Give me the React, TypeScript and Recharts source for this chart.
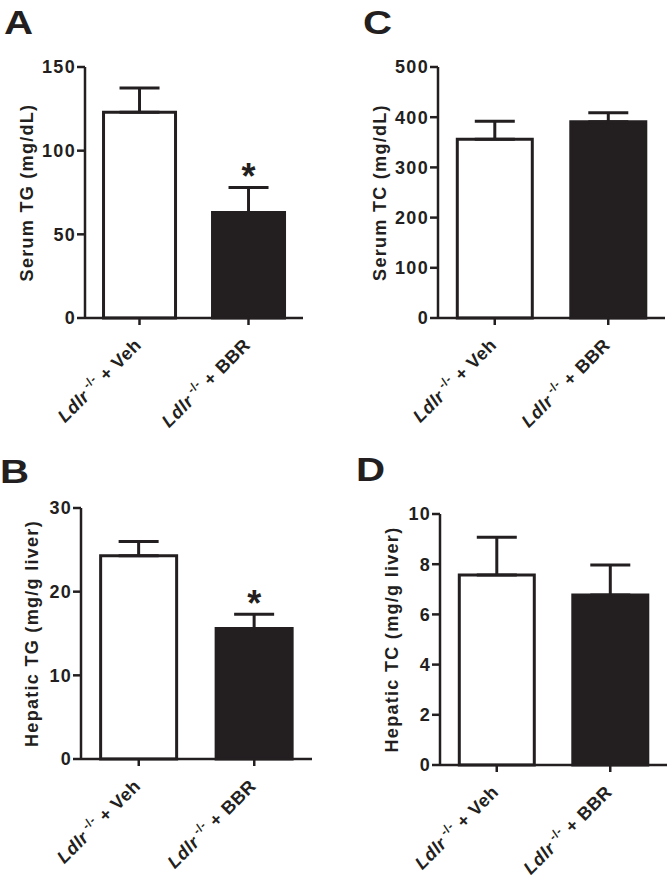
import React from "react";
import { BarChart, Bar, XAxis, YAxis, Cell, ErrorBar, ReferenceDot, Label } from "recharts";

const groups = ["Veh", "BBR"];
const geneName = "Ldlr";
const genotype = "-/-";

const serumTG = [123, 63];
const serumTGErr = [14.5, 15];
const serumTGSig = ["", "*"];
const serumTGTicks = [0, 50, 100, 150];

const hepaticTG = [24.3, 15.6];
const hepaticTGErr = [1.7, 1.7];
const hepaticTGSig = ["", "*"];
const hepaticTGTicks = [0, 10, 20, 30];

const serumTC = [356, 391];
const serumTCErr = [36, 18];
const serumTCSig = ["", ""];
const serumTCTicks = [0, 100, 200, 300, 400, 500];

const hepaticTC = [7.57, 6.77];
const hepaticTCErr = [1.5, 1.2];
const hepaticTCSig = ["", ""];
const hepaticTCTicks = [0, 2, 4, 6, 8, 10];

const INK = "#231f20";
const FONT = "'Liberation Sans', Arial, sans-serif";
const fills = ["#ffffff", INK];

function buildData(values: number[], errs: number[], sig: string[]) {
  return groups.map((g, i) => ({
    name: g,
    value: values[i],
    err: [0, errs[i]],
    top: values[i] + errs[i],
    sig: sig[i],
  }));
}

const CatTick = (props: any) => {
  const { x, y, payload } = props;
  return (
    <g transform={`translate(${x + 3},${y + 19})`}>
      <text
        x={0}
        y={0}
        transform="rotate(-45)"
        textAnchor="end"
        fontFamily={FONT}
        fontWeight="bold"
        fontSize={18}
        letterSpacing={0.6}
        fill={INK}
      >
        <tspan fontStyle="italic">{geneName}</tspan>
        <tspan fontSize={12} dy={-8}>{" " + genotype}</tspan>
        <tspan dy={8}>{" + " + payload.value}</tspan>
      </text>
    </g>
  );
};

type PanelProps = {
  left: number;
  top: number;
  width: number;
  height: number;
  margin: { top: number; right: number; left: number; bottom: number };
  yWidth: number;
  xHeight: number;
  values: number[];
  errs: number[];
  sig: string[];
  ticks: number[];
  yLabel: string;
  labelX: number;
  letter: string;
  letterLeft: number;
  letterTop: number;
};

const Panel = (p: PanelProps) => {
  const data = buildData(p.values, p.errs, p.sig);
  const max = p.ticks[p.ticks.length - 1];
  return (
    <>
      <div
        style={{
          position: "absolute",
          left: p.letterLeft,
          top: p.letterTop,
          fontFamily: FONT,
          fontWeight: "bold",
          fontSize: 33,
          lineHeight: 1,
          color: INK,
          transform: "scaleX(1.22)",
          transformOrigin: "left top",
        }}
      >
        {p.letter}
      </div>
      <div style={{ position: "absolute", left: p.left, top: p.top }}>
        <BarChart width={p.width} height={p.height} data={data} margin={p.margin} barCategoryGap="17%">
          <XAxis
            dataKey="name"
            height={p.xHeight}
            tick={<CatTick />}
            tickLine={{ stroke: INK, strokeWidth: 2.5 }}
            axisLine={{ stroke: INK, strokeWidth: 2.5 }}
            tickSize={7}
            interval={0}
          />
          <YAxis
            width={p.yWidth}
            domain={[0, max]}
            ticks={p.ticks}
            interval={0}
            tickSize={8}
            tickMargin={1}
            tickLine={{ stroke: INK, strokeWidth: 2.5 }}
            axisLine={{ stroke: INK, strokeWidth: 2.5 }}
            tick={{ fill: INK, fontFamily: FONT, fontWeight: "bold", fontSize: 18, letterSpacing: 1.3 }}
          >
            <Label
              content={(lp: any) => {
                const vb = lp.viewBox || {};
                const cy = vb.y + vb.height / 2;
                return (
                  <text
                    transform={`translate(${p.labelX},${cy}) rotate(-90)`}
                    textAnchor="middle"
                    fontFamily={FONT}
                    fontWeight="bold"
                    fontSize={18}
                    letterSpacing={1.3}
                    fill={INK}
                  >
                    {p.yLabel}
                  </text>
                );
              }}
            />
          </YAxis>
          <Bar dataKey="value" isAnimationActive={false} stroke={INK} strokeWidth={3}>
            {data.map((d, i) => (
              <Cell key={d.name} fill={fills[i]} />
            ))}
            <ErrorBar dataKey="err" width={20} stroke={INK} strokeWidth={3} direction="y" />
          </Bar>
          {data
            .filter((d) => d.sig)
            .map((d) => (
              <ReferenceDot
                key={"sig" + d.name}
                x={d.name}
                y={d.top}
                r={0}
                ifOverflow="visible"
                shape={(sp: any) => (
                  <text
                    x={sp.cx}
                    y={sp.cy + 2}
                    textAnchor="middle"
                    fontFamily={FONT}
                    fontWeight="bold"
                    fontSize={36}
                    fill={INK}
                  >
                    {d.sig}
                  </text>
                )}
              />
            ))}
        </BarChart>
      </div>
    </>
  );
};

export default function App() {
  return (
    <div style={{ position: "absolute", left: 0, top: 0, width: 669, height: 883, background: "#fff" }}>
      <Panel
        left={0}
        top={40}
        width={320}
        height={400}
        margin={{ top: 27, right: 17, left: 0, bottom: 0 }}
        yWidth={85}
        xHeight={122}
        values={serumTG}
        errs={serumTGErr}
        sig={serumTGSig}
        ticks={serumTGTicks}
        yLabel="Serum TG (mg/dL)"
        labelX={33}
        letter="A"
        letterLeft={4}
        letterTop={6}
      />
      <Panel
        left={0}
        top={480}
        width={330}
        height={403}
        margin={{ top: 28, right: 18, left: 0, bottom: 0 }}
        yWidth={81}
        xHeight={124}
        values={hepaticTG}
        errs={hepaticTGErr}
        sig={hepaticTGSig}
        ticks={hepaticTGTicks}
        yLabel="Hepatic TG (mg/g liver)"
        labelX={38}
        letter="B"
        letterLeft={0}
        letterTop={455}
      />
      <Panel
        left={340}
        top={40}
        width={329}
        height={400}
        margin={{ top: 27, right: 4, left: 0, bottom: 0 }}
        yWidth={98}
        xHeight={122}
        values={serumTC}
        errs={serumTCErr}
        sig={serumTCSig}
        ticks={serumTCTicks}
        yLabel="Serum TC (mg/dL)"
        labelX={46}
        letter="C"
        letterLeft={363}
        letterTop={6}
      />
      <Panel
        left={340}
        top={480}
        width={329}
        height={403}
        margin={{ top: 34, right: 2, left: 0, bottom: 0 }}
        yWidth={100}
        xHeight={118}
        values={hepaticTC}
        errs={hepaticTCErr}
        sig={hepaticTCSig}
        ticks={hepaticTCTicks}
        yLabel="Hepatic TC (mg/g liver)"
        labelX={58}
        letter="D"
        letterLeft={356}
        letterTop={453}
      />
    </div>
  );
}
